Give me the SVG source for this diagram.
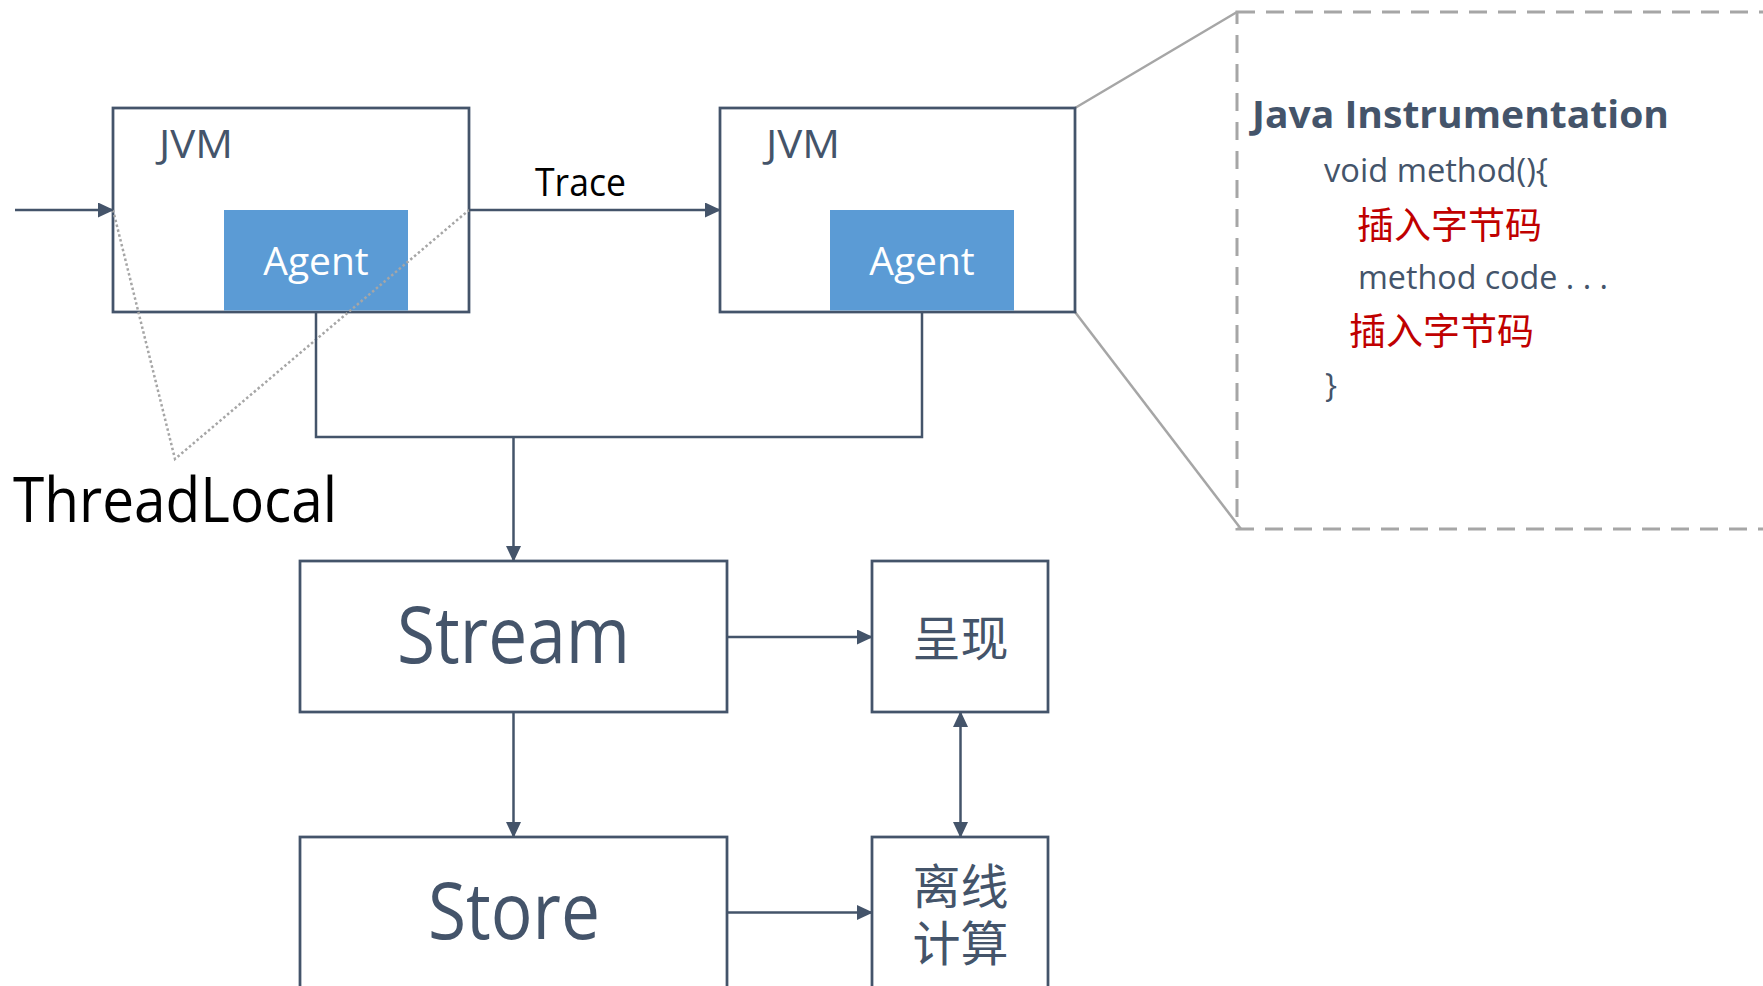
<svg xmlns="http://www.w3.org/2000/svg" width="1763" height="986" viewBox="0 0 1763 986">
  <defs>
    <style>
      .box { fill: #ffffff; stroke: #44546a; stroke-width: 2.75; }
      .agent { fill: #5b9bd5; }
      .conn { fill: none; stroke: #44546a; stroke-width: 2.5; }
      .callout { fill: none; stroke: #a6a6a6; stroke-width: 2.5; }
      .dashed { fill: none; stroke: #a6a6a6; stroke-width: 3; stroke-dasharray: 18 11; }
      .dotted { fill: none; stroke: #a6a6a6; stroke-width: 2.5; stroke-dasharray: 2.5 2.5; }
      .lat { font-family: "Segoe UI", "Open Sans", "Noto Sans", sans-serif; }
      .cjk { font-family: "Microsoft YaHei", "Noto Sans CJK SC", sans-serif; }
      .slate { fill: #44546a; }
      .red { fill: #c00000; }
      .black { fill: #000000; }
      .white { fill: #ffffff; }
    </style>
    <marker id="arrow" viewBox="0 0 16 15" refX="15" refY="7.5" markerWidth="16" markerHeight="15" markerUnits="userSpaceOnUse" orient="auto-start-reverse">
      <path d="M0,0 L16,7.5 L0,15 z" fill="#44546a"/>
    </marker>
  </defs>

  <rect x="0" y="0" width="1763" height="986" fill="#ffffff"/>

  <!-- zoom-in callout for the second JVM -->
  <g id="instrumentation-panel">
    <line class="callout" x1="1075" y1="108" x2="1237" y2="12"/>
    <line class="callout" x1="1075" y1="312" x2="1241" y2="529"/>
    <rect class="dashed" x="1237" y="12" width="620" height="517"/>
    <text class="lat slate" x="1252" y="128" font-size="38" font-weight="bold" textLength="417" lengthAdjust="spacingAndGlyphs">Java Instrumentation</text>
    <text class="lat slate" x="1324" y="182" font-size="32" textLength="224" lengthAdjust="spacingAndGlyphs">void method(){</text>
    <text class="cjk red" x="1357" y="239" font-size="37">插入字节码</text>
    <text class="lat slate" x="1358" y="289" font-size="32" textLength="250" lengthAdjust="spacingAndGlyphs">method code . . .</text>
    <text class="cjk red" x="1349" y="345" font-size="37">插入字节码</text>
    <text class="lat slate" x="1325" y="397" font-size="32">}</text>
  </g>

  <!-- first JVM with its agent -->
  <g id="jvm1">
    <rect class="box" x="113" y="108" width="356" height="204"/>
    <rect class="agent" x="224" y="210" width="184" height="100.5"/>
    <text class="lat slate" x="159" y="158" font-size="38" textLength="74" lengthAdjust="spacingAndGlyphs">JVM</text>
    <text class="lat white" x="316" y="275" font-size="39" text-anchor="middle">Agent</text>
  </g>

  <!-- second JVM with its agent -->
  <g id="jvm2">
    <rect class="box" x="720" y="108" width="355" height="204"/>
    <rect class="agent" x="830" y="210" width="184" height="100.5"/>
    <text class="lat slate" x="766" y="158" font-size="38" textLength="74" lengthAdjust="spacingAndGlyphs">JVM</text>
    <text class="lat white" x="922" y="275" font-size="39" text-anchor="middle">Agent</text>
  </g>

  <g id="stream">
    <rect class="box" x="300" y="561" width="427" height="151"/>
    <text class="lat slate" x="513.5" y="663" font-size="78" text-anchor="middle" textLength="233" lengthAdjust="spacingAndGlyphs">Stream</text>
  </g>

  <g id="store">
    <rect class="box" x="300" y="837" width="427" height="180"/>
    <text class="lat slate" x="514" y="939" font-size="78" text-anchor="middle" textLength="172" lengthAdjust="spacingAndGlyphs">Store</text>
  </g>

  <g id="display">
    <rect class="box" x="872" y="561" width="176" height="151"/>
    <text class="cjk slate" x="960.5" y="656" font-size="48" text-anchor="middle">呈现</text>
  </g>

  <g id="offline">
    <rect class="box" x="872" y="837" width="176" height="180"/>
    <text class="cjk slate" font-size="48" text-anchor="middle"><tspan x="960.5" y="904">离线</tspan><tspan x="960.5" y="961">计算</tspan></text>
  </g>

  <g id="threadlocal-note">
    <polyline class="dotted" points="113,210 175,459 469,210"/>
    <text class="lat black" x="13" y="522" font-size="62" textLength="324" lengthAdjust="spacingAndGlyphs">ThreadLocal</text>
  </g>

  <g id="connectors">
    <line class="conn" x1="15" y1="210" x2="113" y2="210" marker-end="url(#arrow)"/>
    <line class="conn" x1="469" y1="210" x2="720" y2="210" marker-end="url(#arrow)"/>
    <text class="lat black" x="535" y="196" font-size="38" textLength="91" lengthAdjust="spacingAndGlyphs">Trace</text>
    <polyline class="conn" points="316,312 316,437 922,437 922,312"/>
    <line class="conn" x1="513.5" y1="437" x2="513.5" y2="561" marker-end="url(#arrow)"/>
    <line class="conn" x1="513.5" y1="712" x2="513.5" y2="837" marker-end="url(#arrow)"/>
    <line class="conn" x1="727" y1="637" x2="872" y2="637" marker-end="url(#arrow)"/>
    <line class="conn" x1="727" y1="912.5" x2="872" y2="912.5" marker-end="url(#arrow)"/>
    <line class="conn" x1="960.5" y1="712" x2="960.5" y2="837" marker-start="url(#arrow)" marker-end="url(#arrow)"/>
  </g>
</svg>
